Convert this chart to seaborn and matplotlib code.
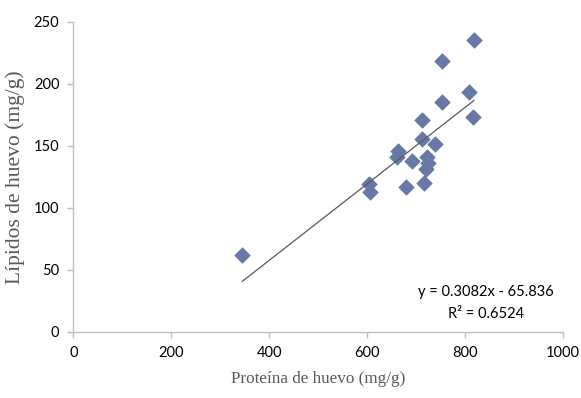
import numpy as np
import pandas as pd
import matplotlib
matplotlib.use("Agg")
import matplotlib.pyplot as plt
import seaborn as sns

# Egg protein vs egg lipid content (mg/g)
proteina = [345, 604, 606, 662, 664, 680, 693, 712, 712, 717, 721, 722, 724,
            739, 753, 754, 809, 816, 819]
lipidos = [62, 119, 113, 141, 146, 117, 138, 155, 171, 120, 131, 141, 136,
           151, 218, 185, 193, 173, 235]

# Linear trend reported on the chart
pendiente = 0.3082
intercepto = -65.836
r2 = 0.6524

x_ticks = [0, 200, 400, 600, 800, 1000]
y_ticks = [0, 50, 100, 150, 200, 250]

sns.set_theme(style="white")

df = pd.DataFrame({"proteina": proteina, "lipidos": lipidos})
x_fit = np.array([min(proteina), max(proteina)], dtype=float)
trend = pd.DataFrame({"x": x_fit, "y": pendiente * x_fit + intercepto})

fig = plt.figure(figsize=(5.81, 3.98), dpi=100)
ax = fig.add_axes([0.1262, 0.1666, 0.8423, 0.7789])

sns.lineplot(data=trend, x="x", y="y", ax=ax, color="#5a5a5a", linewidth=0.9,
             zorder=3)
sns.scatterplot(data=df, x="proteina", y="lipidos", ax=ax, marker="D", s=62,
                color="#6777a6", edgecolor="#6777a6", linewidth=0.5, zorder=2)

ax.set_xlim(0, 1000)
ax.set_ylim(0, 250)
ax.set_xticks(x_ticks)
ax.set_yticks(y_ticks)
ax.set_xticklabels([str(t) for t in x_ticks], fontfamily="Lato", fontsize=10.5,
                   color="#000000")
ax.set_yticklabels([str(t) for t in y_ticks], fontfamily="Lato", fontsize=10.5,
                   color="#000000")

for side in ("top", "right"):
    ax.spines[side].set_visible(False)
for side in ("left", "bottom"):
    ax.spines[side].set_color("#c0c0c0")
    ax.spines[side].set_linewidth(1.0)
ax.tick_params(axis="both", direction="out", length=4, width=1.0,
               color="#c0c0c0", pad=6)
ax.tick_params(left=True, bottom=True)

ax.set_xlabel("Proteína de huevo (mg/g)", fontfamily="Liberation Serif",
              fontsize=12.3, color="#595959", labelpad=8)
ax.set_ylabel("Lípidos de huevo (mg/g)", fontfamily="Liberation Serif",
              fontsize=15.5, color="#595959", labelpad=6)

ax.text(0.843, 0.093, f"y = {pendiente}x - {abs(intercepto)}\nR² = {r2}",
        transform=ax.transAxes, ha="center", va="center", fontfamily="Lato",
        fontsize=10.5, color="#000000", linespacing=1.7)

fig.savefig("out.png", dpi=100)
